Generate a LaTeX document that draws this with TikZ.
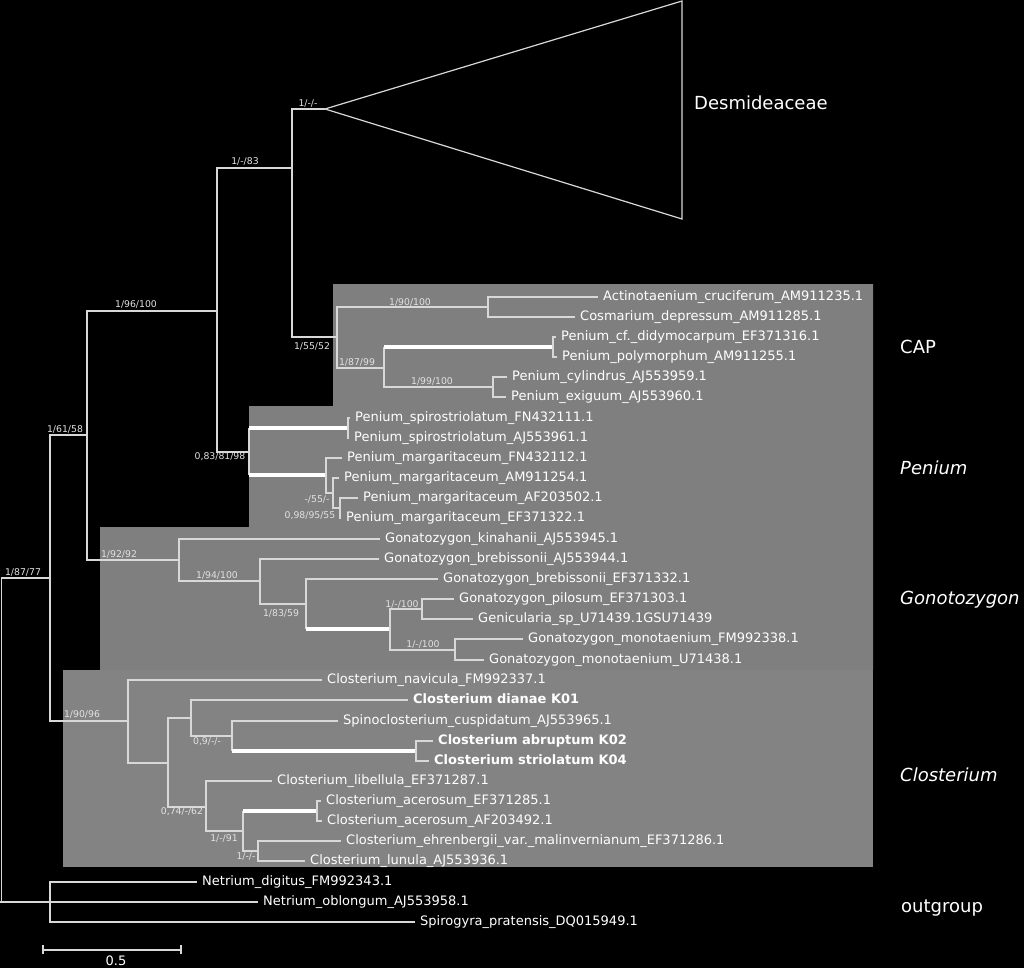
\documentclass[tikz,border=0pt]{standalone}
\usepackage{fontspec}
\setmainfont{DejaVu Sans}
\definecolor{linegray}{HTML}{D8D8D8}
\definecolor{supgray}{HTML}{E2E2E2}
\definecolor{boxgray}{HTML}{7F7F7F}
\definecolor{boxgrayb}{HTML}{838383}
\begin{document}
\begin{tikzpicture}[x=1pt,y=-1pt,
  br/.style={draw=linegray, line width=1.2pt},
  thk/.style={draw=white, line width=4pt},
  leaf/.style={text=white, font=\fontsize{13}{15}\selectfont, inner xsep=5pt, inner ysep=0pt, text height=6pt, text depth=0pt, anchor=west},
  bleaf/.style={leaf, font=\fontsize{13}{15}\selectfont\bfseries},
  sup/.style={text=supgray, font=\fontsize{9.3}{11}\selectfont, inner sep=0pt},
  grp/.style={text=white, font=\fontsize{18}{21}\selectfont, anchor=west, inner sep=0pt},
]
\useasboundingbox (0,0) rectangle (1024,968);
\fill[black] (0,0) rectangle (1024,968);
% clade boxes
\fill[boxgray] (333,284) -- (873,284) -- (873,670) -- (100,670) -- (100,527) -- (249,527) -- (249,406) -- (333,406) -- cycle;
\fill[boxgrayb] (63,670) rectangle (873,867);

% internal nodes
\coordinate (root) at (1.5,902);
\coordinate (rootL) at (0,902);
\coordinate (A) at (50,578);
\coordinate (B) at (87,435);
\coordinate (C) at (217,311);
\coordinate (D) at (292,168);
\coordinate (Ds) at (325,109);
\coordinate (T1) at (682,1);
\coordinate (T2) at (682,219);
\coordinate (E) at (337,337);
\coordinate (F) at (488,307);
\coordinate (G) at (384,368);
\coordinate (H) at (553,347);
\coordinate (I) at (493,387);
\coordinate (P) at (249,452);
\coordinate (P1) at (348,428);
\coordinate (M1) at (326,475);
\coordinate (M2) at (333,493);
\coordinate (M3) at (340,508);
\coordinate (Z) at (179,560);
\coordinate (Z2) at (260,581);
\coordinate (Z3) at (306,604);
\coordinate (Z4) at (390,629);
\coordinate (Z5) at (422,609);
\coordinate (Z6) at (455,650);
\coordinate (K) at (128,721);
\coordinate (K2) at (168,763);
\coordinate (K3) at (191,718);
\coordinate (K4) at (232,736);
\coordinate (K4b) at (416,751);
\coordinate (K5) at (206,807);
\coordinate (K6) at (243,831);
\coordinate (K6b) at (317,811);
\coordinate (K7) at (258,851);
\coordinate (O) at (50,902);

% leaves
\node[leaf] (l1) at (598,297) {Actinotaenium\_cruciferum\_AM911235.1};
\node[leaf] (l2) at (575,317) {Cosmarium\_depressum\_AM911285.1};
\node[leaf] (l3) at (556,337) {Penium\_cf.\_didymocarpum\_EF371316.1};
\node[leaf] (l4) at (557,357) {Penium\_polymorphum\_AM911255.1};
\node[leaf] (l5) at (507,377) {Penium\_cylindrus\_AJ553959.1};
\node[leaf] (l6) at (506,397) {Penium\_exiguum\_AJ553960.1};
\node[leaf] (l7) at (350,418) {Penium\_spirostriolatum\_FN432111.1};
\node[leaf] (l8) at (349,438) {Penium\_spirostriolatum\_AJ553961.1};
\node[leaf] (l9) at (342,458) {Penium\_margaritaceum\_FN432112.1};
\node[leaf] (l10) at (339,478) {Penium\_margaritaceum\_AM911254.1};
\node[leaf] (l11) at (358,498) {Penium\_margaritaceum\_AF203502.1};
\node[leaf] (l12) at (341,518) {Penium\_margaritaceum\_EF371322.1};
\node[leaf] (l13) at (380,539) {Gonatozygon\_kinahanii\_AJ553945.1};
\node[leaf] (l14) at (379,559) {Gonatozygon\_brebissonii\_AJ553944.1};
\node[leaf] (l15) at (438,579) {Gonatozygon\_brebissonii\_EF371332.1};
\node[leaf] (l16) at (454,599) {Gonatozygon\_pilosum\_EF371303.1};
\node[leaf] (l17) at (473,619) {Genicularia\_sp\_U71439.1GSU71439};
\node[leaf] (l18) at (523,639) {Gonatozygon\_monotaenium\_FM992338.1};
\node[leaf] (l19) at (484,660) {Gonatozygon\_monotaenium\_U71438.1};
\node[leaf] (l20) at (322,680) {Closterium\_navicula\_FM992337.1};
\node[bleaf] (l21) at (408,700) {Closterium dianae K01};
\node[leaf] (l22) at (338,721) {Spinoclosterium\_cuspidatum\_AJ553965.1};
\node[bleaf] (l23) at (433,741) {Closterium abruptum K02};
\node[bleaf] (l24) at (429,761) {Closterium striolatum K04};
\node[leaf] (l25) at (272,781) {Closterium\_libellula\_EF371287.1};
\node[leaf] (l26) at (321,801) {Closterium\_acerosum\_EF371285.1};
\node[leaf] (l27) at (322,821) {Closterium\_acerosum\_AF203492.1};
\node[leaf] (l28) at (341,841) {Closterium\_ehrenbergii\_var.\_malinvernianum\_EF371286.1};
\node[leaf] (l29) at (305,861) {Closterium\_lunula\_AJ553936.1};
\node[leaf] (l30) at (197,882) {Netrium\_digitus\_FM992343.1};
\node[leaf] (l31) at (258,902) {Netrium\_oblongum\_AJ553958.1};
\node[leaf] (l32) at (415,922) {Spirogyra\_pratensis\_DQ015949.1};

% backbone
\draw[br] (root) |- (A);
\draw[br] (rootL) -- (l31.west);
\draw[br] (O) |- (l30.west);
\draw[br] (O) |- (l32.west);
\draw[br] (A) |- (B);
\draw[br] (A) |- (K);
\draw[br] (B) |- (C);
\draw[br] (B) |- (Z);
\draw[br] (C) |- (D);
\draw[br] (C) |- (P);
\draw[br] (D) |- (Ds);
\draw[br] (D) |- (E);
\draw[br] (Ds) -- (T1) -- (T2) -- cycle;
% CAP
\draw[br] (E) |- (F);
\draw[br] (E) |- (G);
\draw[br] (F) |- (l1.west);
\draw[br] (F) |- (l2.west);
\draw[br] (G) -- (G |- H);
\draw[thk] (G |- H) -- (H);
\draw[br] (G) |- (I);
\draw[br] (H) |- (l3.west);
\draw[br] (H) |- (l4.west);
\draw[br] (I) |- (l5.west);
\draw[br] (I) |- (l6.west);
% Penium
\draw[br] (P) -- (P |- P1);
\draw[thk] (P |- P1) -- (P1);
\draw[br] (P) -- (P |- M1);
\draw[thk] (P |- M1) -- (M1);
\draw[br] (P1) |- (l7.west);
\draw[br] (P1) |- (l8.west);
\draw[br] (M1) |- (l9.west);
\draw[br] (M1) |- (M2);
\draw[br] (M2) |- (l10.west);
\draw[br] (M2) |- (M3);
\draw[br] (M3) |- (l11.west);
\draw[br] (M3) |- (l12.west);
% Gonatozygon
\draw[br] (Z) |- (l13.west);
\draw[br] (Z) |- (Z2);
\draw[br] (Z2) |- (l14.west);
\draw[br] (Z2) |- (Z3);
\draw[br] (Z3) |- (l15.west);
\draw[br] (Z3) -- (Z3 |- Z4);
\draw[thk] (Z3 |- Z4) -- (Z4);
\draw[br] (Z4) |- (Z5);
\draw[br] (Z4) |- (Z6);
\draw[br] (Z5) |- (l16.west);
\draw[br] (Z5) |- (l17.west);
\draw[br] (Z6) |- (l18.west);
\draw[br] (Z6) |- (l19.west);
% Closterium
\draw[br] (K) |- (l20.west);
\draw[br] (K) |- (K2);
\draw[br] (K2) |- (K3);
\draw[br] (K2) |- (K5);
\draw[br] (K3) |- (l21.west);
\draw[br] (K3) |- (K4);
\draw[br] (K4) |- (l22.west);
\draw[br] (K4) -- (K4 |- K4b);
\draw[thk] (K4 |- K4b) -- (K4b);
\draw[br] (K4b) |- (l23.west);
\draw[br] (K4b) |- (l24.west);
\draw[br] (K5) |- (l25.west);
\draw[br] (K5) |- (K6);
\draw[br] (K6) -- (K6 |- K6b);
\draw[thk] (K6 |- K6b) -- (K6b);
\draw[br] (K6) |- (K7);
\draw[br] (K6b) |- (l26.west);
\draw[br] (K6b) |- (l27.west);
\draw[br] (K7) |- (l28.west);
\draw[br] (K7) |- (l29.west);

% support values
\node[sup] (s1) at (308,104) {1/-/-};
\node[sup] (s2) at (245,161) {1/-/83};
\node[sup] (s3) at (136,304) {1/96/100};
\node[sup] (s4) at (65,429) {1/61/58};
\node[sup] (s5) at (23,572) {1/87/77};
\node[sup] (s6) at (220,457) {0,83/81/98};
\node[sup] (s7) at (312,346) {1/55/52};
\node[sup] (s8) at (410,302) {1/90/100};
\node[sup] (s9) at (357,362) {1/87/99};
\node[sup] (s10) at (432,381) {1/99/100};
\node[sup] (s11) at (317,500) {-/55/-};
\node[sup] (s12) at (310,516) {0,98/95/55};
\node[sup] (s13) at (119,554) {1/92/92};
\node[sup] (s14) at (217,575) {1/94/100};
\node[sup] (s15) at (281,613) {1/83/59};
\node[sup] (s16) at (402,604) {1/-/100};
\node[sup] (s17) at (423,644) {1/-/100};
\node[sup] (s18) at (82,714) {1/90/96};
\node[sup] (s19) at (207,742) {0,9/-/-};
\node[sup] (s20) at (182,812) {0,74/-/62};
\node[sup] (s21) at (224,838) {1/-/91};
\node[sup] (s22) at (246,857) {1/-/-};

% group labels
\node[grp] (g1) at (694,103) {Desmideaceae};
\node[grp] (g2) at (900,347) {CAP};
\node[grp] (g3) at (900,468) {\itshape Penium};
\node[grp] (g4) at (900,600) {\itshape Gonotozygon};
\node[grp] (g5) at (900,775) {\itshape Closterium};
\node[grp] (g6) at (901,908) {outgroup};

% scale bar
\coordinate (sb1) at (43,950);
\coordinate (sb2) at (181,950);
\draw[br] (sb1) -- (sb2);
\draw[br] ([yshift=-4pt]sb1) -- ([yshift=5pt]sb1);
\draw[br] ([yshift=-4pt]sb2) -- ([yshift=5pt]sb2);
\node[text=white, font=\fontsize{13}{15}\selectfont, inner sep=0pt] (sbl) at (116,961) {0.5};
\end{tikzpicture}
\end{document}
